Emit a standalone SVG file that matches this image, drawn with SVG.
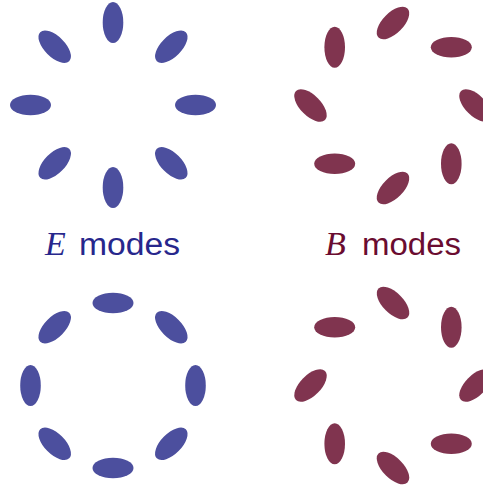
<svg xmlns="http://www.w3.org/2000/svg" width="483" height="488" viewBox="0 0 483 488">
<defs>
<style>
.e{fill:#4c4f9e}
.b{fill:#80344f}
.lbl{font-family:"Liberation Sans",Arial,sans-serif;font-size:31px}
.it{font-family:"Liberation Serif","Times New Roman",serif;font-style:italic;font-size:34px}
</style>
<ellipse id="pe" cx="0" cy="0" rx="20.5" ry="10.3"/>
</defs>
<g id="E-top" class="e">
<use href="#pe" transform="translate(195.5,105) rotate(0)"/>
<use href="#pe" transform="translate(171.3,163.3) rotate(45)"/>
<use href="#pe" transform="translate(113,187.5) rotate(90)"/>
<use href="#pe" transform="translate(54.7,163.3) rotate(135)"/>
<use href="#pe" transform="translate(30.5,105) rotate(0)"/>
<use href="#pe" transform="translate(54.7,46.7) rotate(45)"/>
<use href="#pe" transform="translate(113,22.5) rotate(90)"/>
<use href="#pe" transform="translate(171.3,46.7) rotate(135)"/>
</g>
<g id="B-top" class="b">
<use href="#pe" transform="translate(475.5,105.5) rotate(45)"/>
<use href="#pe" transform="translate(451.3,163.8) rotate(90)"/>
<use href="#pe" transform="translate(393,188) rotate(-45)"/>
<use href="#pe" transform="translate(334.7,163.8) rotate(0)"/>
<use href="#pe" transform="translate(310.5,105.5) rotate(45)"/>
<use href="#pe" transform="translate(334.7,47.2) rotate(90)"/>
<use href="#pe" transform="translate(393,23) rotate(-45)"/>
<use href="#pe" transform="translate(451.3,47.2) rotate(0)"/>
</g>
<g id="E-bottom" class="e">
<use href="#pe" transform="translate(195.5,385.5) rotate(90)"/>
<use href="#pe" transform="translate(171.3,443.8) rotate(135)"/>
<use href="#pe" transform="translate(113,468) rotate(0)"/>
<use href="#pe" transform="translate(54.7,443.8) rotate(45)"/>
<use href="#pe" transform="translate(30.5,385.5) rotate(90)"/>
<use href="#pe" transform="translate(54.7,327.2) rotate(135)"/>
<use href="#pe" transform="translate(113,303) rotate(0)"/>
<use href="#pe" transform="translate(171.3,327.2) rotate(45)"/>
</g>
<g id="B-bottom" class="b">
<use href="#pe" transform="translate(475.5,385.5) rotate(-45)"/>
<use href="#pe" transform="translate(451.3,443.8) rotate(0)"/>
<use href="#pe" transform="translate(393,468) rotate(45)"/>
<use href="#pe" transform="translate(334.7,443.8) rotate(90)"/>
<use href="#pe" transform="translate(310.5,385.5) rotate(-45)"/>
<use href="#pe" transform="translate(334.7,327.2) rotate(0)"/>
<use href="#pe" transform="translate(393,303) rotate(45)"/>
<use href="#pe" transform="translate(451.3,327.2) rotate(90)"/>
</g>
<g id="label-E" fill="#27278c">
<text class="it" x="45" y="255">E</text>
<text class="lbl" x="79" y="255" textLength="101" lengthAdjust="spacingAndGlyphs">modes</text>
</g>
<g id="label-B" fill="#6a0c30">
<text class="it" x="325" y="255">B</text>
<text class="lbl" x="362" y="255" textLength="99" lengthAdjust="spacingAndGlyphs">modes</text>
</g>
</svg>
